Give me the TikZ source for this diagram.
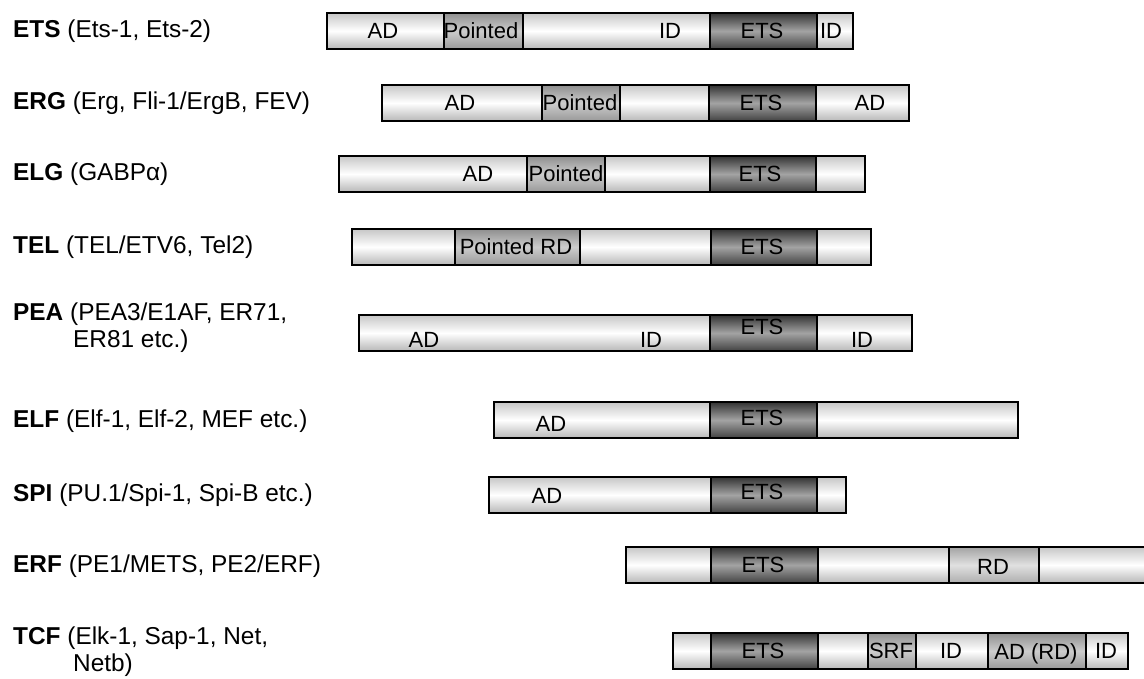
\documentclass[tikz,border=0pt]{standalone}
\usepackage{fontspec}
\setmainfont{Liberation Sans}
\tikzset{
 bx/.style={draw=black, line width=1.5pt, inner sep=0pt, minimum height=36pt, anchor=west},
 lt/.style={bx, top color=black!22, bottom color=black!28, middle color=white},
 dk/.style={bx, top color=black!80, bottom color=black!74, middle color=black!36},
 md/.style={bx, top color=black!44, bottom color=black!40, middle color=black!20},
 ml/.style={bx, top color=black!36, bottom color=black!32, middle color=black!12},
 lab/.style={font=\fontsize{22}{26}\selectfont, inner sep=0pt},
 fam/.style={font=\fontsize{24.4}{27}\selectfont, anchor=west, align=left, inner sep=0pt},
}
\newcommand\dseg[5]{\node[#5, minimum width={#3-#2}] (#1) at (#2,#4) {};}
\begin{document}
\begin{tikzpicture}[x=1pt,y=-1pt]
\useasboundingbox (0,0) rectangle (1144,678);
% ---- Row 1: ETS
\node[fam] (f1) at (13,31) {\textbf{ETS} (Ets-1, Ets-2)};
\dseg{a1}{326}{443}{31}{lt}
\dseg{a2}{443}{522}{31}{md}
\dseg{a3}{522}{709}{31}{lt}
\dseg{a4}{709}{816}{31}{dk}
\dseg{a5}{816}{852}{31}{lt}
\node[lab] (la1) at (383,31) {AD};
\node[lab] (la2) at (481,31) {Pointed};
\node[lab] (la3) at (670,31) {ID};
\node[lab] (la4) at (762,31) {ETS};
\node[lab] (la5) at (831,31) {ID};
% ---- Row 2: ERG
\node[fam] (f2) at (13,103) {\textbf{ERG} (Erg, Fli-1/ErgB, FEV)};
\dseg{b1}{381}{541}{103}{lt}
\dseg{b2}{541}{619}{103}{md}
\dseg{b3}{619}{708}{103}{lt}
\dseg{b4}{708}{815}{103}{dk}
\dseg{b5}{815}{908}{103}{lt}
\node[lab] (lb1) at (460,103) {AD};
\node[lab] (lb2) at (580,103) {Pointed};
\node[lab] (lb4) at (761,103) {ETS};
\node[lab] (lb5) at (870,103) {AD};
% ---- Row 3: ELG
\node[fam] (f3) at (13,174) {\textbf{ELG} (GABPα)};
\dseg{c1}{338}{526}{174}{lt}
\dseg{c2}{526}{604}{174}{md}
\dseg{c3}{604}{709}{174}{lt}
\dseg{c4}{709}{815}{174}{dk}
\dseg{c5}{815}{864}{174}{lt}
\node[lab] (lc1) at (478,174) {AD};
\node[lab] (lc2) at (566,174) {Pointed};
\node[lab] (lc4) at (760,174) {ETS};
% ---- Row 4: TEL
\node[fam] (f4) at (13,247) {\textbf{TEL} (TEL/ETV6, Tel2)};
\dseg{d1}{351}{454}{247}{lt}
\dseg{d2}{454}{579}{247}{md}
\dseg{d3}{579}{710}{247}{lt}
\dseg{d4}{710}{816}{247}{dk}
\dseg{d5}{816}{870}{247}{lt}
\node[lab] (ld2) at (516,247) {Pointed RD};
\node[lab] (ld4) at (762,247) {ETS};
% ---- Row 5: PEA
\node[fam] (f5) at (13,328) {\textbf{PEA} (PEA3/E1AF, ER71,\\\hspace*{60pt}ER81 etc.)};
\dseg{e1}{358}{709}{333}{lt}
\dseg{e2}{709}{816}{333}{dk}
\dseg{e3}{816}{911}{333}{lt}
\node[lab] (le1) at (424,340) {AD};
\node[lab] (le2) at (651,340) {ID};
\node[lab] (le3) at (762,327) {ETS};
\node[lab] (le4) at (862,340) {ID};
% ---- Row 6: ELF
\node[fam] (f6) at (13,421) {\textbf{ELF} (Elf-1, Elf-2, MEF etc.)};
\dseg{g1}{493}{709}{420}{lt}
\dseg{g2}{709}{816}{420}{dk}
\dseg{g3}{816}{1017}{420}{lt}
\node[lab] (lg1) at (551,424) {AD};
\node[lab] (lg2) at (762,418) {ETS};
% ---- Row 7: SPI
\node[fam] (f7) at (13,495) {\textbf{SPI} (PU.1/Spi-1, Spi-B etc.)};
\dseg{h1}{488}{710}{495}{lt}
\dseg{h2}{710}{816}{495}{dk}
\dseg{h3}{816}{845}{495}{lt}
\node[lab] (lh1) at (547,496) {AD};
\node[lab] (lh2) at (762,492) {ETS};
% ---- Row 8: ERF
\node[fam] (f8) at (13,566) {\textbf{ERF} (PE1/METS, PE2/ERF)};
\dseg{k1}{625}{710}{565}{lt}
\dseg{k2}{710}{817}{565}{dk}
\dseg{k3}{817}{948}{565}{lt}
\dseg{k4}{948}{1038}{565}{ml}
\dseg{k5}{1038}{1150}{565}{lt}
\node[lab] (lk2) at (763,565) {ETS};
\node[lab] (lk4) at (993,567) {RD};
% ---- Row 9: TCF
\node[fam] (f9) at (13,652) {\textbf{TCF} (Elk-1, Sap-1, Net,\\\hspace*{60pt}Netb)};
\dseg{m1}{672}{710}{651}{lt}
\dseg{m2}{710}{817}{651}{dk}
\dseg{m3}{817}{867}{651}{lt}
\dseg{m4}{867}{915}{651}{md}
\dseg{m5}{915}{987}{651}{lt}
\dseg{m6}{987}{1085}{651}{md}
\dseg{m7}{1085}{1127}{651}{lt}
\node[lab] (lm2) at (763,651) {ETS};
\node[lab] (lm4) at (891,651) {SRF};
\node[lab] (lm5) at (951,651) {ID};
\node[lab] (lm6) at (1036,654) {AD (RD)};
\node[lab] (lm7) at (1106,651) {ID};
\end{tikzpicture}
\end{document}
